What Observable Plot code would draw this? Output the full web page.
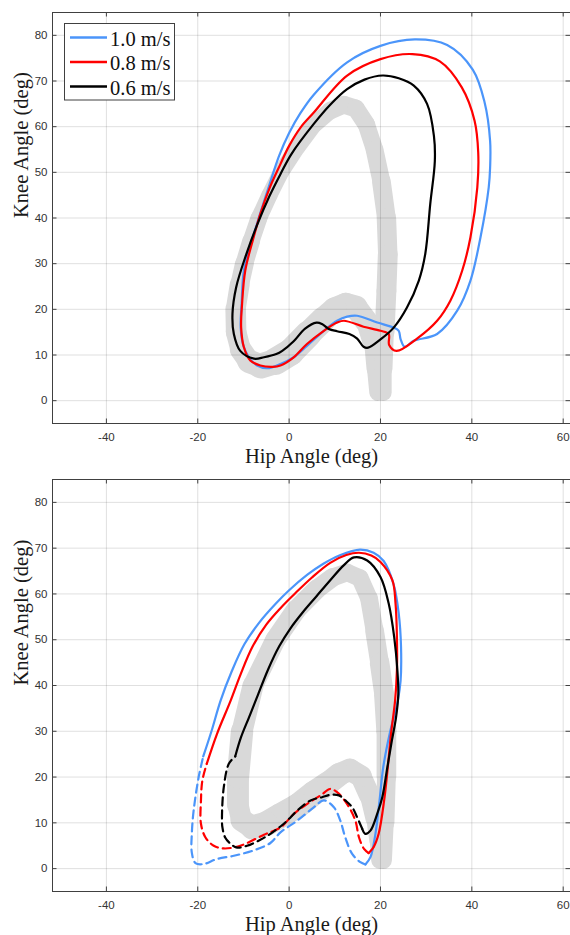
<!DOCTYPE html>
<html><head><meta charset="utf-8">
<script src="https://cdn.jsdelivr.net/npm/d3@7"></script>
<script src="https://cdn.jsdelivr.net/npm/@observablehq/plot@0.6"></script>
<style>
body{margin:0;background:#fff;}
#chart svg{display:block;}
</style></head><body><div id="chart"></div>
<script>
// ---- categories / styles ----
const speeds = ["1.0 m/s", "0.8 m/s", "0.6 m/s"];
const speedColors = ["#4b95fa", "#ff0000", "#000000"];
const xTicks = [-40, -20, 0, 20, 40, 60];
const yTicks = [0, 10, 20, 30, 40, 50, 60, 70, 80];
const xLabel = "Hip Angle (deg)";
const yLabel = "Knee Angle (deg)";

// ---- normative band: [hip, knee, band width (deg)] ----
const bandTop = [
[19.4,1.8,3.6],[18.9,7.0,3.8],[18.4,12.5,4.0],[16.8,17.5,4.8],[14.6,20.4,5.2],[12.4,21.0,5.2],[10.0,20.0,5.2],[7.5,17.8,5.4],[4.2,14.6,5.6],[0.3,10.6,6.0],[-3.0,8.6,5.8],[-6.2,7.6,5.2],[-8.8,8.6,5.0],[-10.6,11.2,4.5],[-11.6,15.0,4.5],[-11.7,20.0,4.5],[-10.8,25.5,4.2],[-9.8,30.0,4.0],[-8.3,35.0,3.8],[-6.6,40.0,3.6],[-4.3,45.0,3.5],[-1.8,50.0,3.5],[1.8,55.5,3.5],[5.5,60.5,3.6],[9.0,63.5,3.8],[12.0,64.8,3.9],[14.6,64.0,3.9],[16.9,60.5,3.8],[18.7,55.0,3.8],[20.2,48.0,4.0],[21.3,40.0,4.2],[21.6,32.0,4.3],[21.3,24.0,4.4],[20.9,15.0,4.3],[20.6,7.0,3.8],[20.6,1.8,3.6]
];
const bandBottom = [
[19.8,1.8,3.6],[19.5,6.0,3.7],[18.8,11.0,4.0],[17.6,16.0,4.4],[15.7,20.2,4.8],[13.3,21.6,4.8],[11.0,20.6,5.0],[8.5,18.6,5.2],[5.4,16.5,5.4],[2.0,13.8,5.4],[-1.9,11.6,5.4],[-5.0,9.8,5.4],[-8.0,9.0,5.2],[-10.4,10.6,4.6],[-11.2,14.0,4.6],[-11.2,20.0,5.0],[-10.3,30.0,4.8],[-7.9,40.0,4.4],[-3.0,50.0,4.4],[1.5,56.5,4.4],[6.0,61.0,4.2],[9.5,63.6,4.0],[12.7,64.7,3.8],[15.5,63.5,3.8],[17.5,59.0,3.8],[18.7,52.0,4.0],[19.8,45.0,4.2],[20.8,38.0,4.4],[21.3,30.0,4.4],[21.3,20.0,4.2],[21.0,10.0,4.0],[20.6,1.8,3.6]
];

// ---- top panel loops: [hip, knee] ----
const top10 = [[-8.8,9.5],[-10.0,12.0],[-10.6,16.0],[-10.4,21.2],[-9.9,28.5],[-8.3,34.5],[-6.5,40.5],[-4.4,47.0],[-2.2,53.6],[0.0,58.6],[2.5,63.0],[5.4,67.0],[12.7,74.1],[20.0,77.7],[27.5,79.1],[34.6,77.9],[40.2,72.5],[42.8,65.3],[44.0,56.9],[44.0,51.0],[43.7,46.7],[41.9,35.8],[39.7,26.3],[36.8,19.7],[32.4,14.6],[27.3,13.1],[25.3,11.8],[24.4,13.5],[24.0,15.3],[22.9,16.0],[19.3,17.1],[14.9,18.6],[12.7,18.4],[10.5,17.5],[7.6,15.3],[3.9,12.0],[1.0,9.5],[-1.9,8.0],[-4.8,7.1],[-7.0,7.7]];
const top08 = [[-8.5,8.8],[-9.9,11.7],[-10.5,16.0],[-10.3,21.2],[-9.6,28.5],[-7.9,35.3],[-6.3,40.9],[-4.3,46.5],[-1.9,51.8],[0.0,55.8],[2.5,59.8],[5.4,63.1],[12.7,71.2],[20.0,74.8],[27.0,75.9],[33.0,74.3],[37.8,68.6],[40.6,61.3],[41.4,54.3],[41.2,46.7],[39.7,35.8],[37.9,28.5],[35.3,21.9],[32.4,17.5],[28.0,13.6],[23.5,10.9],[21.9,12.2],[21.8,14.6],[20.0,15.3],[16.3,16.2],[12.0,17.5],[10.5,17.1],[7.6,15.3],[3.9,12.4],[1.0,9.5],[-1.9,7.7],[-3.6,7.4],[-6.3,7.7]];
const top06 = [[-7.7,9.2],[-10.7,10.9],[-12.1,14.6],[-12.4,19.0],[-11.6,24.8],[-9.4,32.0],[-7.0,38.5],[-4.3,44.8],[-1.9,49.6],[0.5,54.0],[5.4,60.6],[9.0,64.8],[12.7,68.2],[16.5,70.3],[20.5,71.2],[24.0,70.6],[27.3,69.0],[30.2,65.0],[31.7,58.0],[31.9,52.5],[30.9,43.1],[29.8,32.1],[28.4,26.3],[25.8,20.4],[22.9,16.0],[20.0,13.4],[17.3,11.6],[16.3,11.8],[14.9,13.6],[13.2,14.6],[10.5,15.2],[8.7,15.7],[7.2,16.8],[6.0,17.1],[3.5,15.8],[1.0,13.0],[-1.5,10.9],[-2.8,10.2],[-5.5,9.5]];

// ---- bottom panel: solid (swing) and dashed (stance) parts ----
const bot10Solid = [[-18.8,24.5],[-17.0,30.0],[-15.0,36.7],[-12.6,43.0],[-9.8,49.0],[-6.5,53.8],[-3.0,57.8],[0.0,60.8],[4.0,64.2],[7.5,66.6],[11.0,68.4],[15.5,69.7],[18.5,69.0],[20.7,67.2],[22.9,62.0],[24.0,55.7],[24.5,48.4],[24.4,41.0],[23.8,36.7],[22.0,29.4],[20.6,22.1],[19.8,14.9],[18.9,7.6],[17.8,2.5],[16.7,0.9]];
const bot10Dash = [[16.7,0.9],[15.6,1.4],[13.8,3.2],[12.3,6.8],[11.2,10.5],[9.8,13.4],[7.6,14.9],[5.4,13.4],[1.8,10.5],[-1.9,7.9],[-4.1,5.6],[-7.7,4.0],[-12.1,2.8],[-15.8,2.1],[-18.7,1.0],[-20.5,1.2],[-21.3,3.5],[-21.3,7.6],[-20.9,12.7],[-19.8,20.0],[-18.8,24.5]];
const bot08Solid = [[-18.0,23.0],[-15.8,29.4],[-12.8,36.7],[-10.6,42.5],[-8.0,48.5],[-5.0,53.3],[-1.8,57.0],[1.5,60.3],[5.0,63.6],[9.0,66.8],[12.5,68.5],[15.3,69.0],[18.0,68.4],[20.0,67.0],[22.6,63.0],[23.3,57.9],[23.6,50.6],[23.6,43.3],[23.2,36.7],[22.3,29.4],[21.6,22.1],[20.8,14.9],[19.6,7.6],[18.5,4.7],[17.4,3.4]];
const bot08Dash = [[17.4,3.4],[16.4,4.3],[15.3,6.8],[14.5,10.5],[12.7,14.1],[10.5,16.7],[9.0,17.4],[6.9,16.0],[3.9,14.1],[1.0,11.9],[-1.9,9.0],[-5.5,7.4],[-10.7,5.0],[-14.3,4.4],[-16.5,5.0],[-18.3,6.8],[-19.3,9.8],[-19.3,14.9],[-19.0,19.2],[-18.0,23.0]];
const bot06Solid = [[-11.8,24.5],[-10.6,28.5],[-8.8,33.0],[-7.0,37.5],[-4.6,43.5],[-2.2,48.5],[0.3,52.5],[3.0,56.0],[6.0,59.5],[9.0,63.0],[12.0,66.3],[14.2,68.0],[17.1,67.3],[20.0,63.7],[21.8,57.9],[23.0,50.6],[23.7,43.3],[23.9,38.0],[23.4,33.0],[22.5,28.0],[21.5,22.1],[20.4,15.6],[19.3,12.0],[17.8,8.3],[16.7,7.6],[16.0,8.7]];
const bot06Dash = [[16.0,8.7],[14.9,11.2],[13.8,13.4],[12.3,14.9],[10.9,16.0],[9.0,16.1],[7.2,15.6],[4.7,14.9],[1.8,12.7],[-0.4,10.5],[-1.9,9.2],[-4.1,7.6],[-6.3,6.3],[-9.2,5.0],[-11.4,4.6],[-12.8,5.4],[-14.0,6.8],[-14.6,9.0],[-14.7,11.2],[-14.3,17.8],[-13.2,22.9],[-11.8,24.5]];

// ---- layout ----
const W = 570, ML = 52, MR = 0;
const xDomain = [-51.8, 61.6];
const yDomain = [-5, 85];
const axisColor = "#404040";
const serif = "'Liberation Serif', 'Times New Roman', serif";

function makePanel({band, closed, solids, dashes, height, mt, mb}) {
  const innerW = W - ML - MR, innerH = height - mt - mb;
  const k = innerW / (xDomain[1] - xDomain[0]); // px per degree
  const segs = d3.pairs(band).map(([a, b]) => ({x1: a[0], y1: a[1], x2: b[0], y2: b[1], w: (a[2] + b[2]) / 2}));
  const lines = [];
  speeds.forEach((s, i) => {
    if (closed) {
      lines.push(Plot.line(closed[i], {x: d => d[0], y: d => d[1], stroke: speedColors[i], strokeWidth: 2.2, curve: "catmull-rom-closed", strokeLinejoin: "round"}));
    } else {
      lines.push(Plot.line(solids[i], {x: d => d[0], y: d => d[1], stroke: speedColors[i], strokeWidth: 2.2, curve: "catmull-rom"}));
      lines.push(Plot.line(dashes[i], {x: d => d[0], y: d => d[1], stroke: speedColors[i], strokeWidth: 2.2, curve: "catmull-rom", strokeDasharray: "8,5"}));
    }
  });
  return Plot.plot({
    width: W, height, marginLeft: ML, marginRight: MR, marginTop: mt, marginBottom: mb,
    x: {domain: xDomain, ticks: xTicks, tickFormat: d => String(d), tickSize: 0, tickPadding: 9, label: null},
    y: {domain: yDomain, ticks: yTicks, tickFormat: d => String(d), tickSize: 0, tickPadding: 5, label: null},
    style: {fontFamily: "'Liberation Sans', Arial, sans-serif", fontSize: "11.5px", color: "#333", background: "white", overflow: "visible"},
    marks: [
      Plot.link(segs, {x1: "x1", y1: "y1", x2: "x2", y2: "y2", stroke: "#d9d9d9", strokeWidth: d => d.w * k, strokeLinecap: "round"}),
      Plot.ruleX(xTicks, {x: d => d, stroke: "#262626", strokeOpacity: 0.14}),
      Plot.ruleY(yTicks, {y: d => d, stroke: "#262626", strokeOpacity: 0.14}),
      ...lines,
      Plot.tickX(xTicks, {x: d => d, insetBottom: innerH - 4.5, stroke: axisColor}),
      Plot.tickX(xTicks, {x: d => d, insetTop: innerH - 4.5, stroke: axisColor}),
      Plot.tickY(yTicks, {y: d => d, insetRight: innerW - 4.5, stroke: axisColor}),
      Plot.tickY(yTicks, {y: d => d, insetLeft: innerW - 4.5, stroke: axisColor}),
      Plot.frame({stroke: axisColor}),
      Plot.text([xLabel], {text: d => d, frameAnchor: "bottom", lineAnchor: "bottom", dy: 39.5, fontFamily: serif, fontSize: 20.5, fill: "#1a1a1a"}),
      Plot.text([yLabel], {text: d => d, frameAnchor: "left", lineAnchor: "bottom", rotate: -90, dx: -25, fontFamily: serif, fontSize: 20.5, fill: "#1a1a1a"})
    ]
  });
}

const topPlot = makePanel({band: bandTop, closed: [top10, top08, top06], height: 470, mt: 12, mb: 47});
const botPlot = makePanel({band: bandBottom, solids: [bot10Solid, bot08Solid, bot06Solid], dashes: [bot10Dash, bot08Dash, bot06Dash], height: 465, mt: 9, mb: 44});

// legend inside top panel
const lg = d3.select(topPlot).append("g").attr("text-anchor", "start");
lg.append("rect").attr("x", 64.5).attr("y", 23.5).attr("width", 110).attr("height", 76.5)
  .attr("fill", "white").attr("stroke", axisColor).attr("stroke-width", 1);
speeds.forEach((s, i) => {
  const yy = 37.5 + i * 24.5;
  lg.append("line").attr("x1", 70).attr("x2", 107).attr("y1", yy).attr("y2", yy)
    .attr("stroke", speedColors[i]).attr("stroke-width", 2.6);
  lg.append("text").attr("x", 110).attr("y", yy + 8).attr("text-anchor", "start").text(s)
    .attr("font-family", serif).attr("font-size", 20.5).attr("fill", "#111");
});

document.getElementById("chart").append(topPlot, botPlot);
</script>
</body></html>
